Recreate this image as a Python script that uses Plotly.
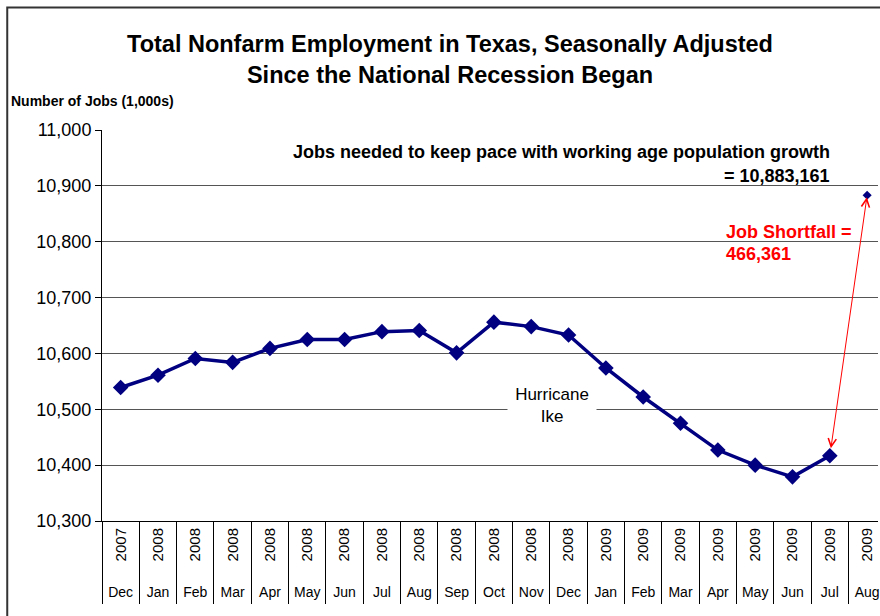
import plotly.graph_objects as go

# ---- data -------------------------------------------------------------
months = ["Dec", "Jan", "Feb", "Mar", "Apr", "May", "Jun", "Jul", "Aug", "Sep",
          "Oct", "Nov", "Dec", "Jan", "Feb", "Mar", "Apr", "May", "Jun", "Jul", "Aug"]
years = ["2007"] + ["2008"] * 12 + ["2009"] * 8
jobs = [10539, 10561, 10591, 10584, 10609, 10625, 10625, 10639, 10641, 10601,
        10656, 10648, 10633, 10574, 10522, 10475, 10427, 10400, 10379, 10416.8]
target_value = 10883.161
shortfall = 466.361
y_ticks = [10300, 10400, 10500, 10600, 10700, 10800, 10900, 11000]

keys = [f"{m} {y}" for m, y in zip(months, years)]

# ---- layout geometry ----------------------------------------------------
W, H = 880, 616
ML, MR, MT, MB = 102, 0, 130, 95
PW, PH = W - ML - MR, H - MT - MB
cat_w = 37.42
x_range = [-0.5, -0.5 + PW / cat_w]


def px(xp):
    return (xp - ML) / PW


def py(yp):
    return 1 - (yp - MT) / PH


FONT = "Liberation Sans, Arial, sans-serif"
NAVY = "#000080"

fig = go.Figure()

fig.add_trace(go.Scatter(
    x=keys[:len(jobs)], y=jobs, mode="lines+markers",
    line=dict(color=NAVY, width=3.5),
    marker=dict(symbol="diamond", size=12, color=NAVY),
    hoverinfo="x+y", showlegend=False, xaxis="x", yaxis="y"))

fig.add_trace(go.Scatter(
    x=[keys[-1]], y=[target_value], mode="markers",
    marker=dict(symbol="diamond", size=7, color=NAVY),
    showlegend=False, xaxis="x2", yaxis="y"))

fig.add_trace(go.Scatter(
    x=keys, y=[None] * len(keys), mode="lines",
    showlegend=False, hoverinfo="skip", xaxis="x3", yaxis="y"))

axis_common = dict(type="category", categoryorder="array", categoryarray=keys,
                   range=x_range, showgrid=False, zeroline=False, fixedrange=True)

fig.update_layout(
    width=W, height=H,
    margin=dict(l=ML, r=MR, t=MT, b=MB, pad=0),
    paper_bgcolor="white", plot_bgcolor="white",
    font=dict(family=FONT, color="black"),
    title=dict(
        text="<b>Total Nonfarm Employment in Texas, Seasonally Adjusted<br>Since the National Recession Began</b>",
        x=450 / W, xref="container", xanchor="center",
        y=1 - 52 / H, yref="container", yanchor="middle",
        font=dict(size=23.5, family=FONT, color="black")),
    xaxis=dict(**axis_common, tickmode="array", tickvals=keys, ticktext=years,
               tickangle=-90, ticks="", showline=True, linecolor="black", linewidth=1,
               tickfont=dict(size=15, family=FONT, color="black")),
    xaxis2=dict(**axis_common, overlaying="x", side="bottom", anchor="y",
                tickmode="array", tickvals=keys, ticktext=months, ticks="",
                ticklabelstandoff=61, showline=False,
                tickfont=dict(size=14, family=FONT, color="black")),
    xaxis3=dict(**axis_common, overlaying="x", side="bottom", anchor="y",
                tickmode="array", tickvals=keys, tickson="boundaries",
                ticks="outside", ticklen=82, tickwidth=1, tickcolor="black",
                showticklabels=False, showline=False),
    yaxis=dict(range=[10300, 11000], tickmode="array", tickvals=y_ticks,
               tickformat=",d", showgrid=True, gridcolor="#555555", gridwidth=1,
               zeroline=False, showline=True, linecolor="black", linewidth=1,
               ticks="outside", ticklen=6, tickcolor="black",
               tickfont=dict(size=18, family=FONT, color="black"), fixedrange=True),
)

# chart-area border
fig.add_shape(type="rect", xref="paper", yref="paper",
              x0=px(7), x1=px(893), y0=py(700), y1=py(7.5),
              line=dict(color="#333333", width=2), fillcolor="rgba(0,0,0,0)", layer="above")

# axis caption
fig.add_annotation(text="<b>Number of Jobs (1,000s)</b>", xref="paper", yref="paper",
                   x=px(9), y=py(101), xanchor="left", yanchor="middle", showarrow=False,
                   font=dict(size=14, family=FONT, color="black"))

# target text
fig.add_annotation(text="<b>Jobs needed to keep pace with working age population growth</b>",
                   xref="paper", yref="paper", x=px(834), y=py(152),
                   xanchor="right", yanchor="middle", showarrow=False,
                   font=dict(size=18, family=FONT, color="black"))
fig.add_annotation(text=f"<b>= {target_value * 1000:,.0f}</b>",
                   xref="paper", yref="paper", x=px(834), y=py(176),
                   xanchor="right", yanchor="middle", showarrow=False,
                   font=dict(size=18, family=FONT, color="black"))

# shortfall text
fig.add_annotation(text="<b>Job Shortfall =</b>", xref="paper", yref="paper",
                   x=px(726), y=py(232), xanchor="left", yanchor="middle", showarrow=False,
                   font=dict(size=18, family=FONT, color="red"))
fig.add_annotation(text=f"<b>{shortfall * 1000:,.0f}</b>", xref="paper", yref="paper",
                   x=px(726), y=py(254), xanchor="left", yanchor="middle", showarrow=False,
                   font=dict(size=18, family=FONT, color="red"))

# hurricane label
fig.add_annotation(text="Hurricane<br>Ike", xref="paper", yref="paper",
                   x=px(553), y=py(405), xanchor="center", yanchor="middle", showarrow=False,
                   bgcolor="white", width=86,
                   font=dict(size=17, family=FONT, color="black"))

# double-headed shortfall arrow
fig.add_annotation(x=keys[-1], y=target_value, xref="x", yref="y",
                   ax=keys[len(jobs) - 1], ay=jobs[-1], axref="x", ayref="y",
                   text="", showarrow=True, arrowside="end+start",
                   arrowhead=5, startarrowhead=5, arrowsize=1.6, startarrowsize=1.6,
                   arrowwidth=1, arrowcolor="red", standoff=2, startstandoff=6)

fig.write_html("out.html")
